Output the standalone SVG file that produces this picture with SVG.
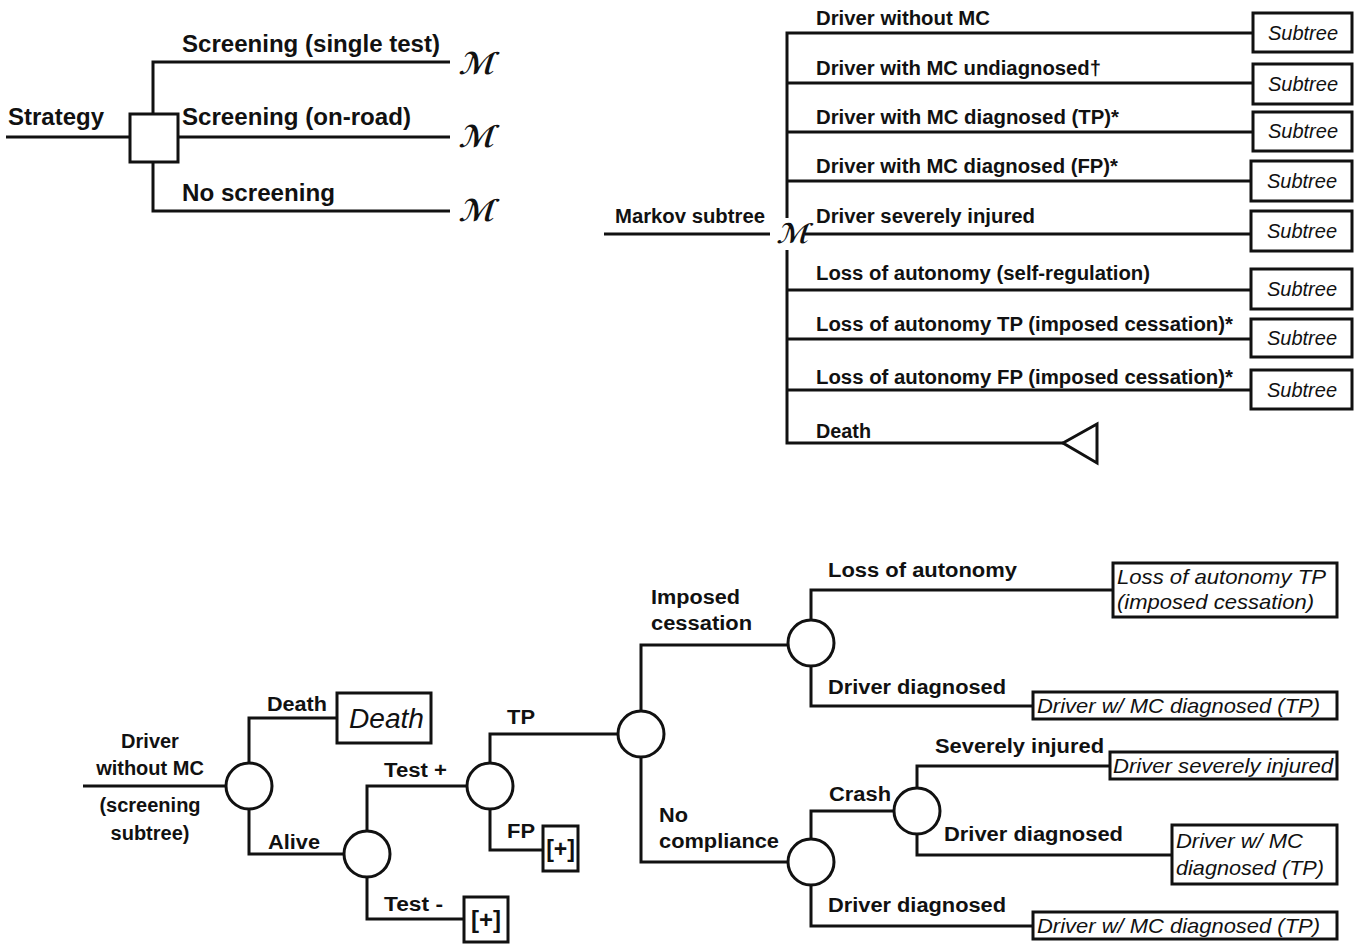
<svg xmlns="http://www.w3.org/2000/svg" width="1360" height="944" viewBox="0 0 1360 944">
<style>
.b{font-family:"Liberation Sans",Arial,sans-serif;font-weight:bold;fill:#111}
.t1{font-size:23px}
.t2{font-size:20px}
.i{font-family:"Liberation Sans",Arial,sans-serif;font-style:italic;fill:#111}
.m{font-family:"DejaVu Serif","DejaVu Sans",serif;font-style:italic;font-weight:bold;fill:#111}
.ln{stroke:#111;stroke-width:3;fill:none}
.bx{fill:#fff;stroke:#111;stroke-width:3}
.nd{fill:#fff;stroke:#111;stroke-width:3}
</style>
<rect width="1360" height="944" fill="#fff"/>

<g id="connectors">
  <path class="ln" d="M6 137H130M153 114V62H450M178 137H450M153 162V211H450"/>
  <path class="ln" d="M604 234H770M787 218V33H1253M787 83H1253M787 132H1253M787 181H1251M805 234H1251M787 250V443H1063M787 290H1251M787 339H1251M787 390H1251"/>
  <path class="ln" d="M83 786H226M249 763V718H337M249 809V854H344"/>
  <path class="ln" d="M367 831V786H467M367 877V919H464"/>
  <path class="ln" d="M490 763V734H618M490 809V850H543"/>
  <path class="ln" d="M641 711V645H788M641 757V862H788"/>
  <path class="ln" d="M811 620V590H1113M811 666V706H1033"/>
  <path class="ln" d="M811 839V811H894M811 885V926H1033"/>
  <path class="ln" d="M917 788V766H1110M917 834V855H1172"/>
</g>

<g id="strategy">
  <text class="b t1" x="8" y="125" textLength="96" lengthAdjust="spacingAndGlyphs">Strategy</text>
  <rect class="nd" x="130" y="114" width="48" height="48"/>
  <text class="b t1" x="182" y="52" textLength="258" lengthAdjust="spacingAndGlyphs">Screening (single test)</text>
  <text class="b t1" x="182" y="125" textLength="229" lengthAdjust="spacingAndGlyphs">Screening (on-road)</text>
  <text class="b t1" x="182" y="201" textLength="153" lengthAdjust="spacingAndGlyphs">No screening</text>
  <text class="m" transform="translate(458 74) skewX(-18)" font-size="30">ℳ</text>
  <text class="m" transform="translate(458 147) skewX(-18)" font-size="30">ℳ</text>
  <text class="m" transform="translate(458 221) skewX(-18)" font-size="30">ℳ</text>
</g>

<g id="markov">
  <text class="b t2" x="615" y="223" textLength="150" lengthAdjust="spacingAndGlyphs">Markov subtree</text>
  <text class="m" transform="translate(776 243) skewX(-18)" font-size="27">ℳ</text>
</g>

<g id="markov-states" class="b t2">
  <text x="816" y="25" textLength="174" lengthAdjust="spacingAndGlyphs">Driver without MC</text>
  <text x="816" y="75" textLength="285" lengthAdjust="spacingAndGlyphs">Driver with MC undiagnosed†</text>
  <text x="816" y="124" textLength="303" lengthAdjust="spacingAndGlyphs">Driver with MC diagnosed (TP)*</text>
  <text x="816" y="173" textLength="302" lengthAdjust="spacingAndGlyphs">Driver with MC diagnosed (FP)*</text>
  <text x="816" y="223" textLength="219" lengthAdjust="spacingAndGlyphs">Driver severely injured</text>
  <text x="816" y="280" textLength="334" lengthAdjust="spacingAndGlyphs">Loss of autonomy (self-regulation)</text>
  <text x="816" y="331" textLength="417" lengthAdjust="spacingAndGlyphs">Loss of autonomy TP (imposed cessation)*</text>
  <text x="816" y="384" textLength="417" lengthAdjust="spacingAndGlyphs">Loss of autonomy FP (imposed cessation)*</text>
  <text x="816" y="438" textLength="55" lengthAdjust="spacingAndGlyphs">Death</text>
</g>

<g id="subtree-1"><rect class="bx" x="1253" y="13" width="99" height="39"/><text class="i" x="1303" y="40" font-size="20" text-anchor="middle">Subtree</text></g>
<g id="subtree-2"><rect class="bx" x="1253" y="64" width="99" height="40"/><text class="i" x="1303" y="91" font-size="20" text-anchor="middle">Subtree</text></g>
<g id="subtree-3"><rect class="bx" x="1253" y="112" width="99" height="39"/><text class="i" x="1303" y="138" font-size="20" text-anchor="middle">Subtree</text></g>
<g id="subtree-4"><rect class="bx" x="1251" y="161" width="101" height="40"/><text class="i" x="1302" y="188" font-size="20" text-anchor="middle">Subtree</text></g>
<g id="subtree-5"><rect class="bx" x="1251" y="211" width="101" height="40"/><text class="i" x="1302" y="238" font-size="20" text-anchor="middle">Subtree</text></g>
<g id="subtree-6"><rect class="bx" x="1251" y="269" width="101" height="40"/><text class="i" x="1302" y="296" font-size="20" text-anchor="middle">Subtree</text></g>
<g id="subtree-7"><rect class="bx" x="1251" y="319" width="101" height="38"/><text class="i" x="1302" y="345" font-size="20" text-anchor="middle">Subtree</text></g>
<g id="subtree-8"><rect class="bx" x="1251" y="370" width="101" height="39"/><text class="i" x="1302" y="397" font-size="20" text-anchor="middle">Subtree</text></g>
<g id="death-terminal"><polygon class="nd" points="1063,443 1097,424 1097,463"/></g>

<g id="root-label" class="b t2" text-anchor="middle">
  <text x="150" y="748">Driver</text>
  <text x="150" y="775">without MC</text>
  <text x="150" y="812">(screening</text>
  <text x="150" y="840">subtree)</text>
</g>
<g id="chance-1"><circle class="nd" cx="249" cy="786" r="23"/></g>
<g id="chance-2"><circle class="nd" cx="367" cy="854" r="23"/></g>
<g id="chance-3"><circle class="nd" cx="490" cy="786" r="23"/></g>
<g id="chance-4"><circle class="nd" cx="641" cy="734" r="23"/></g>
<g id="chance-5"><circle class="nd" cx="811" cy="643" r="23"/></g>
<g id="chance-6"><circle class="nd" cx="811" cy="862" r="23"/></g>
<g id="chance-7"><circle class="nd" cx="917" cy="811" r="23"/></g>

<g id="branch-labels" class="b t2">
  <text x="267" y="711" textLength="60" lengthAdjust="spacingAndGlyphs">Death</text>
  <text x="268" y="849" textLength="52" lengthAdjust="spacingAndGlyphs">Alive</text>
  <text x="384" y="777" textLength="63" lengthAdjust="spacingAndGlyphs">Test +</text>
  <text x="384" y="911" textLength="59" lengthAdjust="spacingAndGlyphs">Test -</text>
  <text x="507" y="724" textLength="28" lengthAdjust="spacingAndGlyphs">TP</text>
  <text x="507" y="838" textLength="28" lengthAdjust="spacingAndGlyphs">FP</text>
  <text x="651" y="604" textLength="89" lengthAdjust="spacingAndGlyphs">Imposed</text>
  <text x="651" y="630" textLength="101" lengthAdjust="spacingAndGlyphs">cessation</text>
  <text x="659" y="822" textLength="29" lengthAdjust="spacingAndGlyphs">No</text>
  <text x="659" y="848" textLength="120" lengthAdjust="spacingAndGlyphs">compliance</text>
  <text x="828" y="577" textLength="189" lengthAdjust="spacingAndGlyphs">Loss of autonomy</text>
  <text x="828" y="694" textLength="178" lengthAdjust="spacingAndGlyphs">Driver diagnosed</text>
  <text x="935" y="753" textLength="169" lengthAdjust="spacingAndGlyphs">Severely injured</text>
  <text x="829" y="801" textLength="62" lengthAdjust="spacingAndGlyphs">Crash</text>
  <text x="944" y="841" textLength="179" lengthAdjust="spacingAndGlyphs">Driver diagnosed</text>
  <text x="828" y="912" textLength="178" lengthAdjust="spacingAndGlyphs">Driver diagnosed</text>
</g>

<g id="term-death"><rect class="bx" x="337" y="693" width="94" height="50"/><text class="i" x="349" y="728" font-size="27" textLength="75" lengthAdjust="spacingAndGlyphs">Death</text></g>
<g id="term-plus-1"><rect class="bx" x="464" y="897" width="44" height="45"/><text class="b" x="486" y="928" font-size="24" text-anchor="middle">[+]</text></g>
<g id="term-plus-2"><rect class="bx" x="543" y="826" width="35" height="45"/><text class="b" x="560.5" y="857" font-size="23" text-anchor="middle">[+]</text></g>
<g id="term-loa"><rect class="bx" x="1113" y="563" width="224" height="54"/>
  <text class="i" x="1117" y="584" font-size="21" textLength="209" lengthAdjust="spacingAndGlyphs">Loss of autonomy TP</text>
  <text class="i" x="1117" y="609" font-size="21" textLength="197" lengthAdjust="spacingAndGlyphs">(imposed cessation)</text></g>
<g id="term-dx1"><rect class="bx" x="1033" y="692" width="304" height="27"/>
  <text class="i" x="1037" y="713" font-size="21" textLength="283" lengthAdjust="spacingAndGlyphs">Driver w/ MC diagnosed (TP)</text></g>
<g id="term-inj"><rect class="bx" x="1110" y="752" width="227" height="27"/>
  <text class="i" x="1113" y="773" font-size="21" textLength="220" lengthAdjust="spacingAndGlyphs">Driver severely injured</text></g>
<g id="term-dx2"><rect class="bx" x="1172" y="825" width="165" height="59"/>
  <text class="i" x="1176" y="848" font-size="21" textLength="127" lengthAdjust="spacingAndGlyphs">Driver w/ MC</text>
  <text class="i" x="1176" y="875" font-size="21" textLength="148" lengthAdjust="spacingAndGlyphs">diagnosed (TP)</text></g>
<g id="term-dx3"><rect class="bx" x="1033" y="912" width="304" height="27"/>
  <text class="i" x="1037" y="933" font-size="21" textLength="283" lengthAdjust="spacingAndGlyphs">Driver w/ MC diagnosed (TP)</text></g>
</svg>
